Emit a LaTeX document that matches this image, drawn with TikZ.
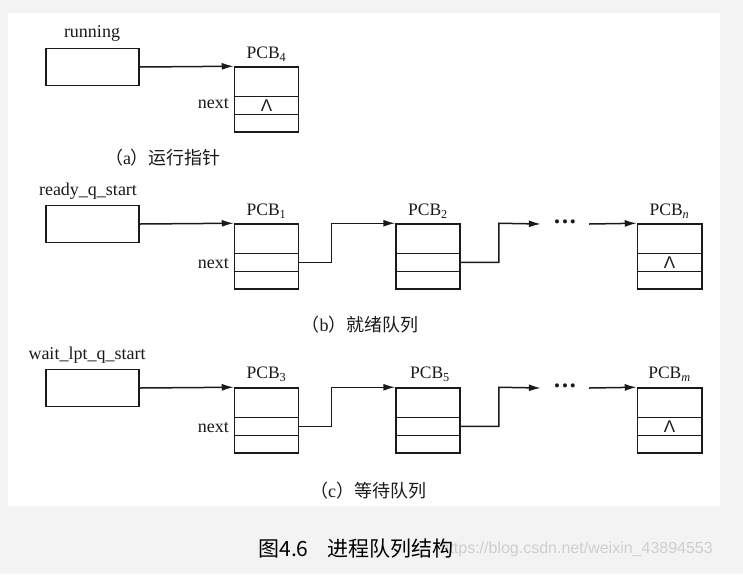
\documentclass[tikz,border=0pt]{standalone}
\usepackage{fontspec}
\setmainfont{Liberation Serif}
\newfontfamily\cjk{Noto Sans CJK SC}
\newfontfamily\lsans{Liberation Sans}
\usetikzlibrary{arrows.meta,calc}
\definecolor{bgc}{HTML}{F3F3F3}
\definecolor{wmc}{HTML}{CFCFCF}
\definecolor{ink}{HTML}{1A1A1A}
\newcommand\pcbdiv[1]{%
  \draw[ln] ([yshift=-30pt]#1.north west) -- ([yshift=-30pt]#1.north east);
  \draw[ln] ([yshift=-48pt]#1.north west) -- ([yshift=-48pt]#1.north east);}
\begin{document}
\begin{tikzpicture}[x=1pt,y=-1pt,
  ln/.style={line width=1.5pt,draw=ink},
  ptrbox/.style={draw=ink,line width=1.5pt,minimum width=93pt,minimum height=37pt,inner sep=0pt},
  pcb/.style={draw=ink,line width=1.5pt,minimum width=64pt,minimum height=65pt,inner sep=0pt},
  arr/.style={line width=1.5pt,draw=ink,-{Latex[length=12pt,width=7pt]}},
  lbl/.style={font=\fontsize{18}{20}\selectfont,inner sep=0pt,text=ink},
  pcbl/.style={font=\fontsize{17.5}{20}\selectfont,inner sep=0pt,text=ink},
  lam/.style={font=\lsans\fontsize{17}{18}\selectfont,inner sep=0pt,text=ink},
  dotsnode/.style={font=\fontsize{17}{17}\selectfont,inner sep=0pt,minimum width=48pt,text=ink},
  captxt/.style={font=\fontsize{18}{20}\selectfont,inner sep=0pt,text=ink}
]
\useasboundingbox (0,0) rectangle (743,574);
\fill[bgc] (0,0) rectangle (743,574);
\fill[white] (8,13) rectangle (720,506);

% ---- (a)
\node[ptrbox] (run) at (92.5,67) {};
\node[lbl] (runl) at (92,33) {running};
\node[pcb] (p4) at (266.5,99.5) {};
\pcbdiv{p4}
\node[pcbl] (p4l) at (266.5,54) {PCB\textsubscript{4}};
\node[lbl,anchor=east] (nx4) at (229,104) {next};
\node[lam] (l4) at (266.5,106) {Λ};
\draw[arr] (run.east) -- (p4.north west);
\node[captxt] (capa) at (163,158) {{\cjk （}a{\cjk ）运行指针}};

% ---- (b)
\node[ptrbox] (rdy) at (92.5,224) {};
\node[lbl] (rdyl) at (88,191) {ready\_q\_start};
\node[pcb] (p1) at (266.5,256.5) {};
\pcbdiv{p1}
\node[pcbl] (p1l) at (266.5,211) {PCB\textsubscript{1}};
\node[lbl,anchor=east] (nx1) at (229,264) {next};
\node[pcb] (p2) at (428,256.5) {};
\pcbdiv{p2}
\node[pcbl] (p2l) at (428,211) {PCB\textsubscript{2}};
\node[dotsnode] (d1) at (565,224) {\textbullet\hspace{2pt}\textbullet\hspace{2pt}\textbullet};
\node[pcb] (pn) at (669.5,256.5) {};
\pcbdiv{pn}
\draw[line width=2.4pt,draw=ink] (pn.north east) -- (pn.south east);
\node[pcbl] (pnl) at (669.5,211) {PCB\textsubscript{\itshape n}};
\node[lam] (ln) at (669.5,263) {Λ};
\draw[arr] (rdy.east) -- (p1.north west);
\draw[arr] ([yshift=-39pt]p1.north east) -| ([xshift=32pt]p1.north east) -- (p2.north west);
\draw[arr] ([yshift=-39pt]p2.north east) -| ([xshift=38pt]p2.north east) -- (d1.west);
\draw[arr] (d1.east) -- (pn.north west);
\node[captxt] (capb) at (360,325) {{\cjk （}b{\cjk ）就绪队列}};

% ---- (c)
\node[ptrbox] (wt) at (92.5,388) {};
\node[lbl] (wtl) at (87,355) {wait\_lpt\_q\_start};
\node[pcb] (p3) at (266.5,420.5) {};
\pcbdiv{p3}
\node[pcbl] (p3l) at (266.5,374) {PCB\textsubscript{3}};
\node[lbl,anchor=east] (nx3) at (229,428) {next};
\node[pcb] (p5) at (428,420.5) {};
\pcbdiv{p5}
\node[pcbl] (p5l) at (430,374) {PCB\textsubscript{5}};
\node[dotsnode] (d2) at (565,388) {\textbullet\hspace{2pt}\textbullet\hspace{2pt}\textbullet};
\node[pcb] (pm) at (669.5,420.5) {};
\pcbdiv{pm}
\draw[line width=2.4pt,draw=ink] (pm.north east) -- (pm.south east);
\node[pcbl] (pml) at (669.5,374) {PCB\textsubscript{\itshape m}};
\node[lam] (lm) at (669.5,427) {Λ};
\draw[arr] (wt.east) -- (p3.north west);
\draw[arr] ([yshift=-39pt]p3.north east) -| ([xshift=32pt]p3.north east) -- (p5.north west);
\draw[arr] ([yshift=-39pt]p5.north east) -| ([xshift=38pt]p5.north east) -- (d2.west);
\draw[arr] (d2.east) -- (pm.north west);
\node[captxt] (capc) at (368,491) {{\cjk （}c{\cjk ）等待队列}};

% ---- figure caption
\node[font=\lsans\fontsize{16}{18}\selectfont,text=wmc,anchor=east,inner sep=0pt] (wm) at (713,549) {https://blog.csdn.net/weixin\_43894553};
\node[font=\cjk\fontsize{21}{24}\selectfont,inner sep=0pt] (fig) at (356,549) {图4.6\hspace{0.9em}进程队列结构};
\end{tikzpicture}
\end{document}
